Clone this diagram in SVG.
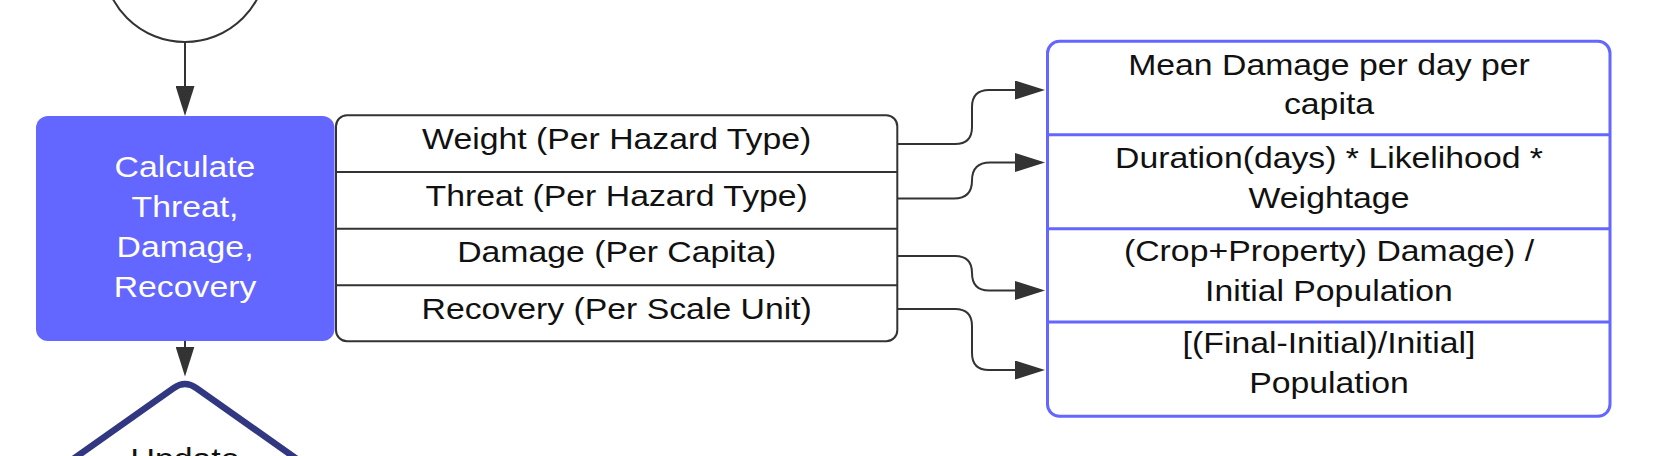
<svg xmlns="http://www.w3.org/2000/svg" width="1658" height="456" viewBox="0 0 1658 456">
<style>
.t{font-family:"Liberation Sans",Arial,sans-serif;font-size:29.5px;text-anchor:middle;fill:#111}
.w{fill:#fff}
.ln{fill:none;stroke:#333;stroke-width:2}
.c{fill:none;stroke:#333;stroke-width:2;marker-end:url(#ah)}
.bl{fill:none;stroke:#6366ff;stroke-width:3}
</style>
<defs>
<marker id="ah" markerUnits="userSpaceOnUse" markerWidth="30" markerHeight="19" refX="2" refY="9.5" orient="auto">
<path d="M0,0 L30,9.5 L0,19 Z" fill="#333"/>
</marker>
</defs>
<rect width="1658" height="456" fill="#fff"/>

<g id="connectors">
<path class="c" d="M185,42 V88"/>
<path class="c" d="M185,341 V348.5"/>
<path class="c" d="M898,144 H955 Q972,144 972,127 V107 Q972,90 989,90 H1017"/>
<path class="c" d="M898,198.5 H954 Q972,198.5 972,180.5 Q972,162.5 990,162.5 H1017"/>
<path class="c" d="M898,256 H955 Q972,256 972,273 Q972,290.5 989,290.5 H1017"/>
<path class="c" d="M898,309 H955 Q972,309 972,326 V353 Q972,370 989,370 H1017"/>
</g>

<g id="start">
<circle cx="185" cy="-40" r="82" fill="#fff" stroke="#333" stroke-width="2"/>
</g>

<g id="calculate">
<rect x="36" y="116" width="298.5" height="225" rx="12" fill="#6366ff"/>
<text class="t w" transform="translate(185 176.7) scale(1.145 1)"><tspan x="0" dy="0">Calculate</tspan><tspan x="0" dy="40.2">Threat,</tspan><tspan x="0" dy="40.2">Damage,</tspan><tspan x="0" dy="40.2">Recovery</tspan></text>
</g>

<g id="attributes">
<rect class="ln" x="336" y="115.3" width="561.3" height="226" rx="11"/>
<path class="ln" d="M336,172 H897.3 M336,228.7 H897.3 M336,285.3 H897.3"/>
<text class="t" transform="translate(616.7 149.3) scale(1.145 1)">Weight (Per Hazard Type)</text>
<text class="t" transform="translate(616.7 205.5) scale(1.145 1)">Threat (Per Hazard Type)</text>
<text class="t" transform="translate(616.7 262) scale(1.145 1)">Damage (Per Capita)</text>
<text class="t" transform="translate(616.7 318.7) scale(1.145 1)">Recovery (Per Scale Unit)</text>
</g>

<g id="formulas">
<rect class="bl" x="1047.5" y="41.3" width="562.5" height="375" rx="12"/>
<path class="bl" d="M1047.5,134.7 H1610 M1047.5,228.7 H1610 M1047.5,322 H1610"/>
<text class="t" transform="translate(1329 74.5) scale(1.145 1)"><tspan x="0" dy="0">Mean Damage per day per</tspan><tspan x="0" dy="39.5">capita</tspan></text>
<text class="t" transform="translate(1329 168.2) scale(1.145 1)"><tspan x="0" dy="0">Duration(days) * Likelihood *</tspan><tspan x="0" dy="39.5">Weightage</tspan></text>
<text class="t" transform="translate(1329 261.2) scale(1.145 1)"><tspan x="0" dy="0">(Crop+Property) Damage) /</tspan><tspan x="0" dy="40">Initial Population</tspan></text>
<text class="t" transform="translate(1329 352.5) scale(1.145 1)"><tspan x="0" dy="0">[(Final-Initial)/Initial]</tspan><tspan x="0" dy="40.5">Population</tspan></text>
</g>

<g id="update">
<path d="M35,486 L173.6,388.1 Q185,380 196.4,388.1 L335,486 L196.4,583.9 Q185,592 173.6,583.9 Z" fill="#fff" stroke="#313780" stroke-width="6.5" stroke-linejoin="round"/>
<text class="t" transform="translate(185 469) scale(1.145 1)">Update</text>
</g>
</svg>
